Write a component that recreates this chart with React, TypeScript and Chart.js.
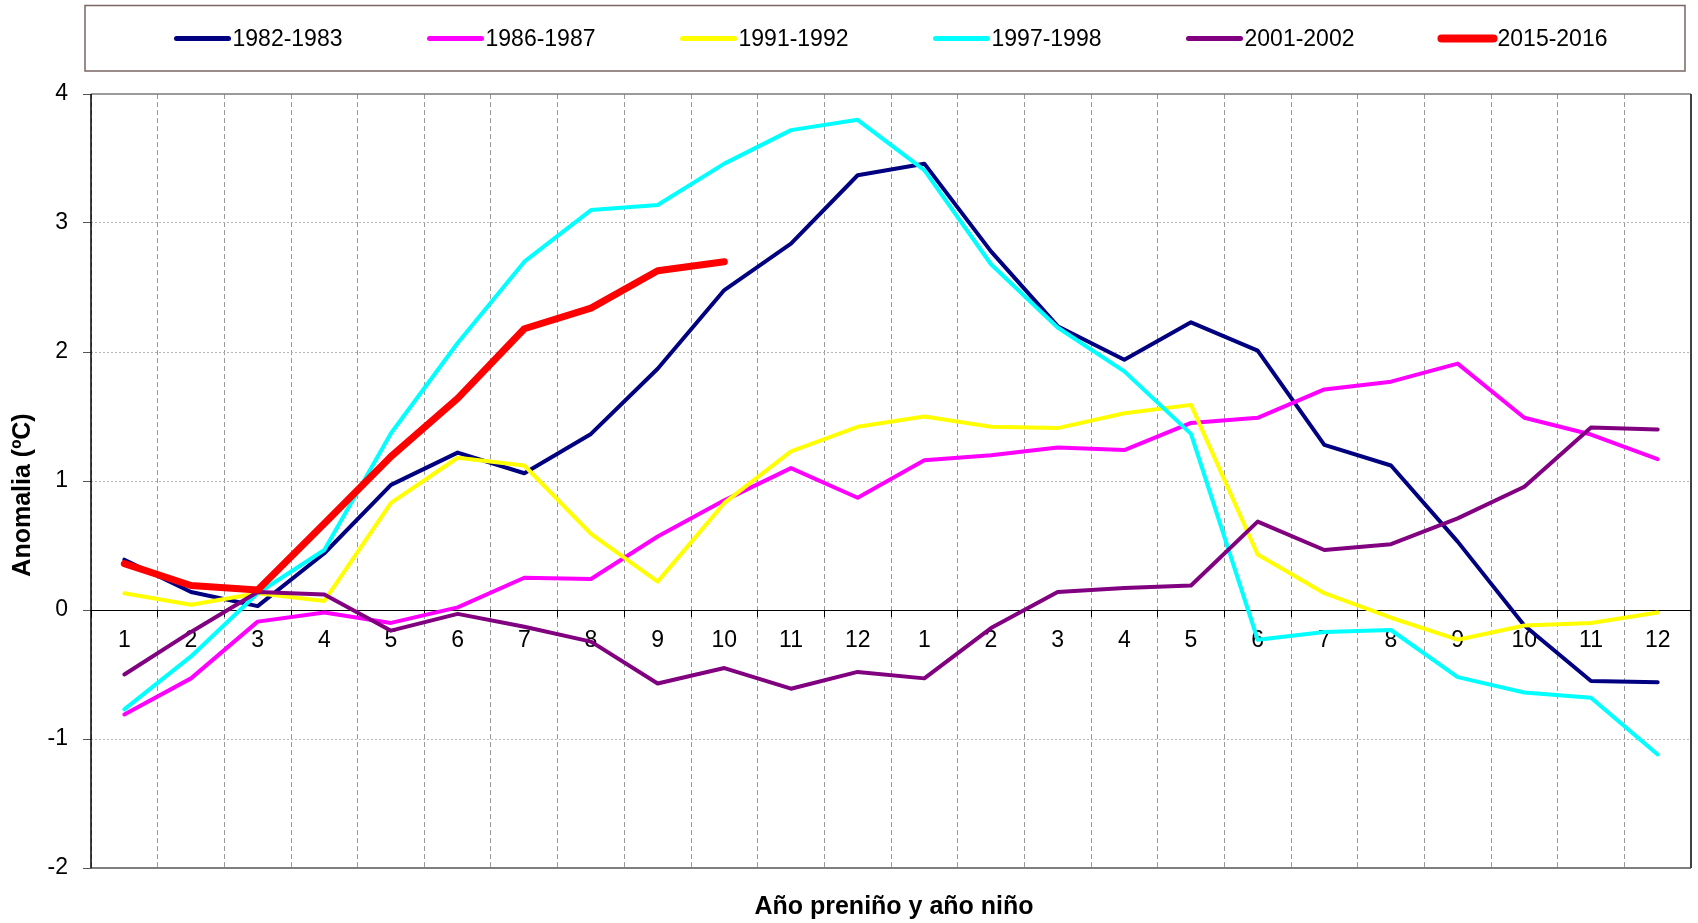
import React, { useEffect, useRef } from 'react';
import { Chart, registerables } from 'chart.js';

Chart.register(...registerables);

const categories = ['1', '2', '3', '4', '5', '6', '7', '8', '9', '10', '11', '12', '1', '2', '3', '4', '5', '6', '7', '8', '9', '10', '11', '12'];

const seriesLabels = ['1982-1983', '1986-1987', '1991-1992', '1997-1998', '2001-2002', '2015-2016'];
const seriesColors = ['#000080', '#FF00FF', '#FFFF00', '#00FFFF', '#800080', '#FF0000'];

const s1982 = [0.39, 0.14, 0.03, 0.44, 0.97, 1.22, 1.06, 1.365, 1.87, 2.48, 2.84, 3.37, 3.46, 2.78, 2.2, 1.94, 2.23, 2.01, 1.28, 1.12, 0.53, -0.12, -0.55, -0.56];
const s1986 = [-0.81, -0.53, -0.09, -0.02, -0.1, 0.02, 0.25, 0.24, 0.57, 0.85, 1.1, 0.87, 1.16, 1.2, 1.26, 1.24, 1.45, 1.49, 1.71, 1.77, 1.91, 1.49, 1.36, 1.17];
const s1991 = [0.13, 0.04, 0.13, 0.07, 0.83, 1.18, 1.12, 0.59, 0.22, 0.83, 1.23, 1.42, 1.5, 1.42, 1.41, 1.525, 1.59, 0.43, 0.13, -0.06, -0.23, -0.12, -0.1, -0.02];
const s1997 = [-0.77, -0.36, 0.13, 0.465, 1.37, 2.07, 2.7, 3.1, 3.14, 3.46, 3.72, 3.8, 3.41, 2.68, 2.19, 1.85, 1.365, -0.23, -0.17, -0.155, -0.52, -0.64, -0.68, -1.12];
const s2001 = [-0.5, -0.17, 0.14, 0.12, -0.16, -0.03, -0.13, -0.245, -0.57, -0.45, -0.61, -0.48, -0.53, -0.14, 0.14, 0.17, 0.19, 0.685, 0.465, 0.51, 0.71, 0.955, 1.415, 1.4];
const s2015 = [0.36, 0.19, 0.155, 0.67, 1.19, 1.64, 2.18, 2.34, 2.63, 2.7, null, null, null, null, null, null, null, null, null, null, null, null, null, null];

const seriesValues = [s1982, s1986, s1991, s1997, s2001, s2015];
const seriesWidths = [4, 4, 4, 4, 4, 7];

const yMin = -2;
const yMax = 4;
const yStep = 1;

const xTitle = 'Año preniño y año niño';
const yTitle = 'Anomalia (ºC)';

const FONT = "'Liberation Sans', Arial, Helvetica, sans-serif";

export default function App() {
  const ref = useRef<HTMLCanvasElement | null>(null);

  useEffect(() => {
    if (!ref.current) return;

    const framePlugin = {
      id: 'framePlugin',
      beforeDatasetsDraw(chart: any) {
        const { ctx, chartArea: a, scales } = chart;
        ctx.save();
        ctx.setLineDash([]);
        ctx.lineWidth = 1.5;
        ctx.strokeStyle = '#7a7a7a';
        ctx.beginPath();
        ctx.moveTo(a.left, a.top);
        ctx.lineTo(a.right, a.top);
        ctx.stroke();
        ctx.strokeStyle = '#555555';
        ctx.beginPath();
        ctx.moveTo(a.left, a.bottom);
        ctx.lineTo(a.right, a.bottom);
        ctx.stroke();
        ctx.lineWidth = 2;
        ctx.strokeStyle = '#404040';
        ctx.beginPath();
        ctx.moveTo(a.right, a.top);
        ctx.lineTo(a.right, a.bottom);
        ctx.stroke();
        // left axis line
        ctx.lineWidth = 1.5;
        ctx.strokeStyle = '#000';
        ctx.beginPath();
        ctx.moveTo(a.left, a.top);
        ctx.lineTo(a.left, a.bottom);
        ctx.stroke();
        // zero line (x axis)
        const y0 = Math.round(scales.y.getPixelForValue(0)) + 0.5;
        ctx.lineWidth = 1.2;
        ctx.beginPath();
        ctx.moveTo(a.left, y0);
        ctx.lineTo(a.right, y0);
        ctx.stroke();
        ctx.restore();
      },
    };

    const legendTitlesPlugin = {
      id: 'legendTitlesPlugin',
      afterDraw(chart: any) {
        const { ctx, chartArea: a } = chart;
        ctx.save();
        // legend frame
        ctx.lineWidth = 1.5;
        ctx.strokeStyle = '#7a6666';
        ctx.strokeRect(a.left - 6, 5.5, a.right - a.left, 65.5);

        // legend items
        ctx.font = `23px ${FONT}`;
        ctx.textBaseline = 'middle';
        ctx.textAlign = 'left';
        const ds = chart.data.datasets;
        const pitch = 253;
        const lastW = ctx.measureText(ds[ds.length - 1].label).width;
        const groupW = pitch * (ds.length - 1) + 60 + lastW;
        const start = (a.left + a.right) / 2 - groupW / 2;
        const yc = 38.5;
        ds.forEach((d: any, i: number) => {
          const x0 = start + i * pitch;
          ctx.lineCap = 'round';
          ctx.lineWidth = d.borderWidth + 1;
          ctx.strokeStyle = d.borderColor;
          ctx.beginPath();
          ctx.moveTo(x0 + 3, yc);
          ctx.lineTo(x0 + 55, yc);
          ctx.stroke();
          ctx.fillStyle = '#000';
          ctx.fillText(d.label, x0 + 59, yc + 1);
        });

        // axis titles
        ctx.font = `bold 25px ${FONT}`;
        ctx.fillStyle = '#000';
        ctx.textAlign = 'center';
        ctx.textBaseline = 'middle';
        ctx.fillText(xTitle, (a.left + a.right) / 2 + 3, 907);
        ctx.translate(23, 495);
        ctx.rotate(-Math.PI / 2);
        ctx.fillText(yTitle, 0, 0);
        ctx.restore();
      },
    };

    const datasets = seriesLabels.map((label, i) => ({
      label,
      data: seriesValues[i],
      borderColor: seriesColors[i],
      backgroundColor: seriesColors[i],
      borderWidth: seriesWidths[i],
      pointRadius: 0,
      pointHoverRadius: 0,
      tension: 0,
      fill: false,
      spanGaps: false,
      borderJoinStyle: 'round' as const,
      borderCapStyle: 'round' as const,
      order: seriesLabels.length - i,
    }));

    const chart = new Chart(ref.current, {
      type: 'line',
      data: { labels: categories, datasets },
      plugins: [framePlugin, legendTitlesPlugin],
      options: {
        animation: false,
        responsive: false,
        events: [],
        layout: { padding: { top: 94, right: 7, bottom: 55, left: 0 } },
        plugins: {
          legend: { display: false },
          tooltip: { enabled: false },
          title: { display: false },
        },
        scales: {
          x: {
            type: 'category',
            position: { y: 0 } as any,
            offset: true,
            afterFit: (s: any) => {
              s.height = 0;
            },
            grid: {
              offset: true,
              color: '#9a9a9a',
              lineWidth: 1,
              drawOnChartArea: true,
              drawTicks: true,
              tickLength: 7,
              tickColor: '#000',
              tickWidth: 1,
            },
            border: { display: false, dash: [5, 3] },
            ticks: {
              autoSkip: false,
              maxRotation: 0,
              minRotation: 0,
              padding: 10,
              color: '#000',
              font: { family: FONT, size: 23 },
            },
          },
          y: {
            type: 'linear',
            position: 'left',
            min: yMin,
            max: yMax,
            afterFit: (s: any) => {
              s.width = 91;
            },
            grid: {
              color: (c: any) => (c.tick && (c.tick.value === 0 || c.tick.value === yMin || c.tick.value === yMax) ? 'rgba(0,0,0,0)' : '#b5b5b5'),
              lineWidth: 1,
              drawTicks: true,
              tickLength: 8,
              tickColor: '#555',
            },
            border: { display: false, dash: [2, 2] },
            ticks: {
              stepSize: yStep,
              padding: 15,
              color: '#000',
              font: { family: FONT, size: 23 },
            },
          },
        },
      },
    });

    return () => {
      chart.destroy();
    };
  }, []);

  return (
    <div style={{ position: 'absolute', left: 0, top: 0, width: 1698, height: 923, background: '#fff' }}>
      <canvas ref={ref} width={1698} height={923} style={{ display: 'block' }} />
    </div>
  );
}
